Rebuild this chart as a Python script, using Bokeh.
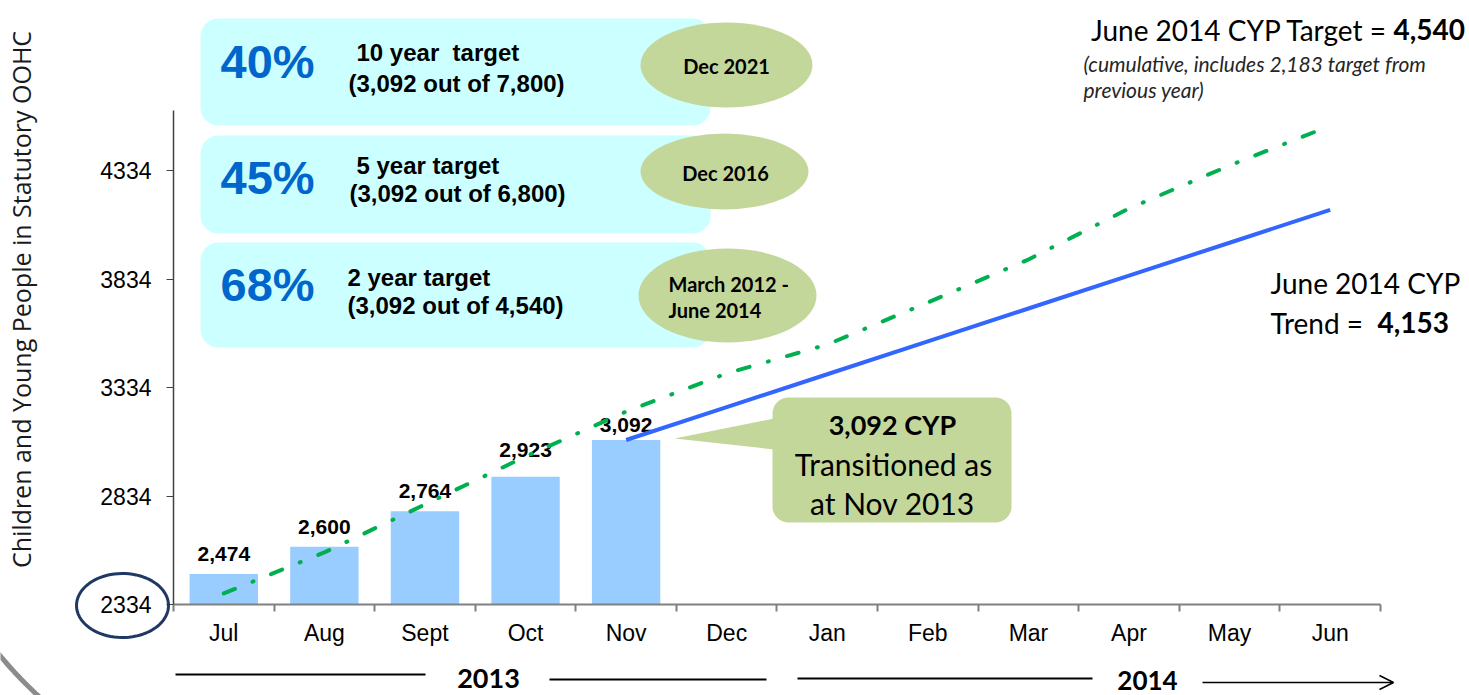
import numpy as np
from bokeh.plotting import figure
from bokeh.models import (Range1d, FixedTicker, LinearAxis, Label, BoxAnnotation,
                          PolyAnnotation, Arrow, OpenHead, ColumnDataSource)
from bokeh.core.properties import value
from bokeh.embed import file_html
from bokeh.resources import INLINE

# ---------------- data ----------------
months = ["Jul", "Aug", "Sept", "Oct", "Nov", "Dec", "Jan", "Feb", "Mar", "Apr", "May", "Jun"]
actual_months = ["Jul", "Aug", "Sept", "Oct", "Nov"]
actual_values = [2474, 2600, 2764, 2923, 3092]
actual_labels = ["2,474", "2,600", "2,764", "2,923", "3,092"]
target_values = [2385, 2574, 2795, 3016, 3223, 3399, 3532, 3726, 3924, 4159, 4357, 4540]
trend_months = ["Nov", "Dec", "Jan", "Feb", "Mar", "Apr", "May", "Jun"]
trend_values = [3092, 3244, 3395, 3547, 3698, 3850, 4001, 4153]
y_ticks = [2334, 2834, 3334, 3834, 4334]
y_base = 2334

# ---------------- layout (frame = whole canvas, axes at fixed locations) ----------------
W, H = 1469, 695
X0PX, Y0PX = 173, 604   # canvas position of (x=0, y=y_base)
XPX = 100.58            # px per month
YPX = 0.217             # px per unit

def DX(px):   # canvas pixel -> data x
    return (px - X0PX) / XPX

def DY(py):   # canvas pixel -> data y
    return y_base + (Y0PX - py) / YPX

def mx(m):    # month -> centre position on the numeric axis
    return months.index(m) + 0.5

p = figure(width=W, height=H, x_range=Range1d(DX(0), DX(W)), y_range=Range1d(DY(H), DY(0)),
           output_backend="svg", toolbar_location=None, x_axis_type=None, y_axis_type=None,
           min_border_left=0, min_border_right=0, min_border_top=0, min_border_bottom=0)
p.outline_line_color = None
p.background_fill_color = "white"
p.border_fill_color = "white"

# ---------------- axes ----------------
yaxis = LinearAxis(ticker=FixedTicker(ticks=y_ticks, minor_ticks=[]), bounds=(y_base, DY(110)),
                   fixed_location=0)
yaxis.major_tick_out = 7
yaxis.major_tick_in = 0
yaxis.minor_tick_out = 0
yaxis.major_tick_line_color = "#404040"
yaxis.axis_line_color = "#404040"
yaxis.axis_line_width = 1.5
yaxis.major_label_standoff = 15
yaxis.major_label_text_font = "Liberation Sans"
yaxis.major_label_text_font_size = "23px"
yaxis.major_label_text_color = "#000000"
p.add_layout(yaxis, "left")

centres = [mx(m) for m in months]
xaxis = LinearAxis(ticker=FixedTicker(ticks=centres, minor_ticks=list(range(len(months) + 1))),
                   bounds=(0, len(months)), fixed_location=y_base,
                   major_label_overrides={c: m for c, m in zip(centres, months)})
xaxis.major_tick_line_color = None
xaxis.major_tick_out = 0
xaxis.major_tick_in = 0
xaxis.minor_tick_out = 7
xaxis.minor_tick_in = 0
xaxis.minor_tick_line_color = "#808080"
xaxis.minor_tick_line_width = 2
xaxis.axis_line_color = "#808080"
xaxis.axis_line_width = 2
xaxis.major_label_standoff = 8
xaxis.major_label_text_font = "Liberation Sans"
xaxis.major_label_text_font_size = "23px"
xaxis.major_label_text_color = "#000000"
p.add_layout(xaxis, "below")

# ---------------- boxes (underlay) ----------------
for top, bot in [(18, 125), (135, 233), (242, 347)]:
    p.add_layout(BoxAnnotation(left=DX(200), right=DX(710), top=DY(top), bottom=DY(bot),
                               fill_color="#CCFFFF", fill_alpha=1, line_color=None,
                               border_radius=18, level="underlay"))
p.add_layout(BoxAnnotation(left=DX(772), right=DX(1011), top=DY(397), bottom=DY(522),
                           fill_color="#C4D79B", fill_alpha=1, line_color=None,
                           border_radius=16, level="underlay"))
p.patch([DX(774), DX(674), DX(774)], [DY(418), DY(438), DY(449)],
        fill_color="#C4D79B", line_color=None)

p.ellipse(x=[DX(726), DX(724), DX(727)], y=[DY(64.5), DY(171), DY(295)],
          width=[172, 168, 178], height=[85, 76, 94],
          width_units="screen", height_units="screen",
          fill_color="#C4D79B", line_color=None)

# ---------------- data marks ----------------
src = ColumnDataSource(dict(x=[mx(m) for m in actual_months], top=actual_values,
                            lab=actual_labels, dy=[-20, -20, -20, -27, -15]))
p.vbar(x="x", top="top", bottom=y_base, width=0.68, source=src,
       fill_color="#99CCFF", line_color=None)
p.text(x="x", y="top", text="lab", y_offset="dy", source=src,
       text_align="center", text_baseline="middle",
       text_font=value("Liberation Sans"), text_font_style="bold",
       text_font_size="21px", text_color="#000000")

p.line([mx(m) for m in months], target_values, line_color="#00B050", line_width=4,
       line_dash="12 19 1 19", line_cap="round")
p.line([mx(m) for m in trend_months], trend_values, line_color="#3366FF", line_width=4)

# ---------------- texts ----------------
def lab(px, py, text, font="Liberation Sans", size=23, bold=False, italic=False,
        color="#000000", align="left", angle=0):
    style = "bold italic" if (bold and italic) else ("bold" if bold else ("italic" if italic else "normal"))
    p.add_layout(Label(x=DX(px), y=DY(py), text=text, text_font=font,
                       text_font_size=f"{size}px", text_font_style=style,
                       text_color=color, text_align=align, text_baseline="middle",
                       angle=angle))

blue = "#0066CC"
lab(220, 61, "40%", size=47, bold=True, color=blue)
lab(220, 177, "45%", size=47, bold=True, color=blue)
lab(220, 284, "68%", size=47, bold=True, color=blue)

lab(356, 52, "10 year\u00a0\u00a0target", size=24, bold=True)
lab(348, 83, "(3,092 out of 7,800)", size=24, bold=True)
lab(356, 165, "5 year target", size=24, bold=True)
lab(349, 193, "(3,092 out of 6,800)", size=24, bold=True)
lab(347, 277, "2 year target", size=24, bold=True)
lab(347, 305, "(3,092 out of 4,540)", size=24, bold=True)

lab(726, 65, "Dec 2021", font="Lato", size=20, bold=True, align="center")
lab(725, 172, "Dec 2016", font="Lato", size=20, bold=True, align="center")
lab(668, 283, "March 2012 -", font="Lato", size=20, bold=True)
lab(668, 309, "June 2014", font="Lato", size=20, bold=True)

lab(892, 424, "3,092 CYP", font="Lato", size=27, bold=True, align="center")
lab(893, 463, "Transitioned as", font="Lato", size=30, align="center")
lab(892, 502, "at Nov 2013", font="Lato", size=30, align="center")

lab(1387, 29, "June 2014 CYP Target =", font="Lato", size=28, align="right")
lab(1393, 29, "4,540", font="Lato", size=28, bold=True)
lab(1083, 63, "(cumulative, includes 2,183 target from", font="Lato", size=21, italic=True, color="#262626")
lab(1083, 89, "previous year)", font="Lato", size=21, italic=True, color="#262626")

lab(1270, 282, "June 2014 CYP", font="Lato", size=28)
lab(1270, 322, "Trend =", font="Lato", size=28)
lab(1377, 322, "4,153", font="Lato", size=28, bold=True)

lab(20, 299, "Children and Young People in Statutory OOHC", font="Open Sans", size=25,
    align="center", angle=np.pi / 2, color="#1a1a1a")

lab(488, 678, "2013", font="Lato", size=27, bold=True, align="center")
lab(1147, 680, "2014", font="Lato", size=26, bold=True, align="center")

# ---------------- decorations ----------------
t = np.linspace(0, 2 * np.pi, 80)
p.add_layout(PolyAnnotation(xs=[DX(122 + 46 * np.cos(a)) for a in t],
                            ys=[DY(605 + 32 * np.sin(a)) for a in t],
                            fill_alpha=0, line_color="#1F3864", line_alpha=1, line_width=3))

arc = np.radians(np.linspace(122, 148, 40))
axs = [DX(330 + 430 * np.cos(a)) for a in arc] + [DX(-150), DX(-150), DX(100)]
ays = [DY(380 + 430 * np.sin(a)) for a in arc] + [DY(800), DY(900), DY(900)]
p.add_layout(PolyAnnotation(xs=axs, ys=ays, fill_alpha=0, line_color="#8C8C8C",
                            line_alpha=1, line_width=5))

for (x0, y0, x1, y1) in [(175, 674, 425, 674), (549, 679, 766, 679), (797, 678, 1092, 678)]:
    p.add_layout(Arrow(end=None, x_start=DX(x0), y_start=DY(y0), x_end=DX(x1), y_end=DY(y1),
                       line_color="#000000", line_width=2))
p.add_layout(Arrow(end=OpenHead(size=14, line_width=1.5, line_color="#000000"),
                   x_start=DX(1202), y_start=DY(682), x_end=DX(1393), y_end=DY(682),
                   line_color="#000000", line_width=1.5))

open("out.html", "w").write(file_html(p, INLINE))
